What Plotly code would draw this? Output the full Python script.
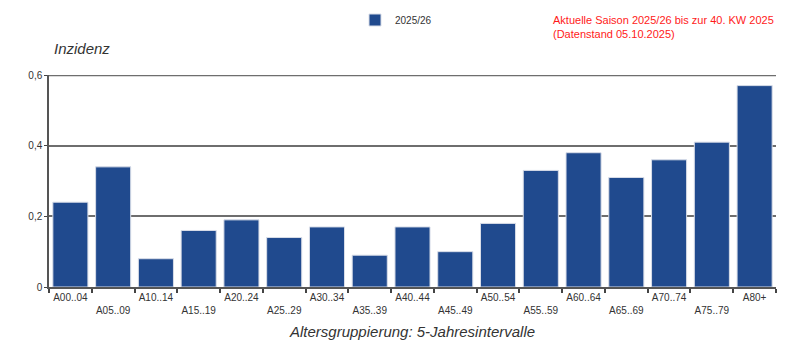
import plotly.graph_objects as go

categories = ["A00..04", "A05..09", "A10..14", "A15..19", "A20..24", "A25..29",
              "A30..34", "A35..39", "A40..44", "A45..49", "A50..54", "A55..59",
              "A60..64", "A65..69", "A70..74", "A75..79", "A80+"]
values = [0.24, 0.34, 0.08, 0.16, 0.19, 0.14, 0.17, 0.09, 0.17, 0.10, 0.18,
          0.33, 0.38, 0.31, 0.36, 0.41, 0.57]
series_name = "2025/26"
y_ticks = [0, 0.2, 0.4, 0.6]
y_tick_labels = ["0", "0,2", "0,4", "0,6"]
y_max = 0.6

# alternate tick labels on two rows
tick_text = [c if i % 2 == 0 else "<br>" + c for i, c in enumerate(categories)]

# page body has an 8px margin, so figure coords = screen coords - 8
W, H = 792, 347
L, R, T, B = 41, 24, 67, 68
pw, ph = W - L - R, H - T - B


def px(xf):
    return (xf - L) / pw


def py(yf):
    return (H - B - yf) / ph


fig = go.Figure()
fig.add_trace(go.Bar(
    x=categories, y=values, name=series_name,
    marker=dict(color="#204a8e", line=dict(color="#d8dde8", width=1)),
))

fig.update_layout(
    width=W, height=H,
    margin=dict(l=L, r=R, t=T, b=B, autoexpand=False),
    paper_bgcolor="white", plot_bgcolor="white",
    bargap=0.18,
    separators=",.",
    font=dict(family="Liberation Sans, Arial, sans-serif", size=10, color="#333"),
    showlegend=True,
    legend=dict(x=px(347), y=py(12), xanchor="left", yanchor="middle",
                orientation="h", font=dict(size=10, color="#333"),
                bgcolor="rgba(0,0,0,0)"),
    xaxis=dict(
        tickmode="array", tickvals=categories, ticktext=tick_text,
        tickangle=0,
        tickson="boundaries", ticks="outside", ticklen=4, tickwidth=1.5,
        tickcolor="#444",
        showline=True, linecolor="#555", linewidth=1.5,
        tickfont=dict(size=10, color="#333"),
        showgrid=False,
    ),
    yaxis=dict(
        range=[0, y_max], tickvals=y_ticks, ticktext=y_tick_labels,
        ticks="outside", ticklen=3, tickcolor="#444",
        showline=True, linecolor="#555", linewidth=1.5,
        showgrid=True, gridcolor="#6e6e6e", gridwidth=2,
        zeroline=False,
        tickfont=dict(size=10, color="#333"),
    ),
    shapes=[
        dict(type="line", xref="paper", yref="y", x0=0, x1=1, y0=y_max, y1=y_max,
             line=dict(color="#6e6e6e", width=2.5), layer="below"),
    ],
    annotations=[
        dict(text="<i>Inzidenz</i>", xref="paper", yref="paper",
             x=px(44), y=py(40), xanchor="left", yanchor="middle",
             showarrow=False, font=dict(size=15, color="#333", family="Liberation Sans, Arial")),
        dict(text="<i>Altersgruppierung: 5-Jahresintervalle</i>", xref="paper", yref="paper",
             x=px(404), y=py(323), xanchor="center", yanchor="middle",
             showarrow=False, font=dict(size=15, color="#333", family="Liberation Sans, Arial")),
        dict(text="Aktuelle Saison 2025/26 bis zur 40. KW 2025<br>(Datenstand 05.10.2025)",
             xref="paper", yref="paper", align="left",
             x=px(543), y=py(4), xanchor="left", yanchor="top",
             showarrow=False, font=dict(size=11, color="#ff1a1a", family="Liberation Sans, Arial")),
    ],
)

fig.write_html("out.html")
